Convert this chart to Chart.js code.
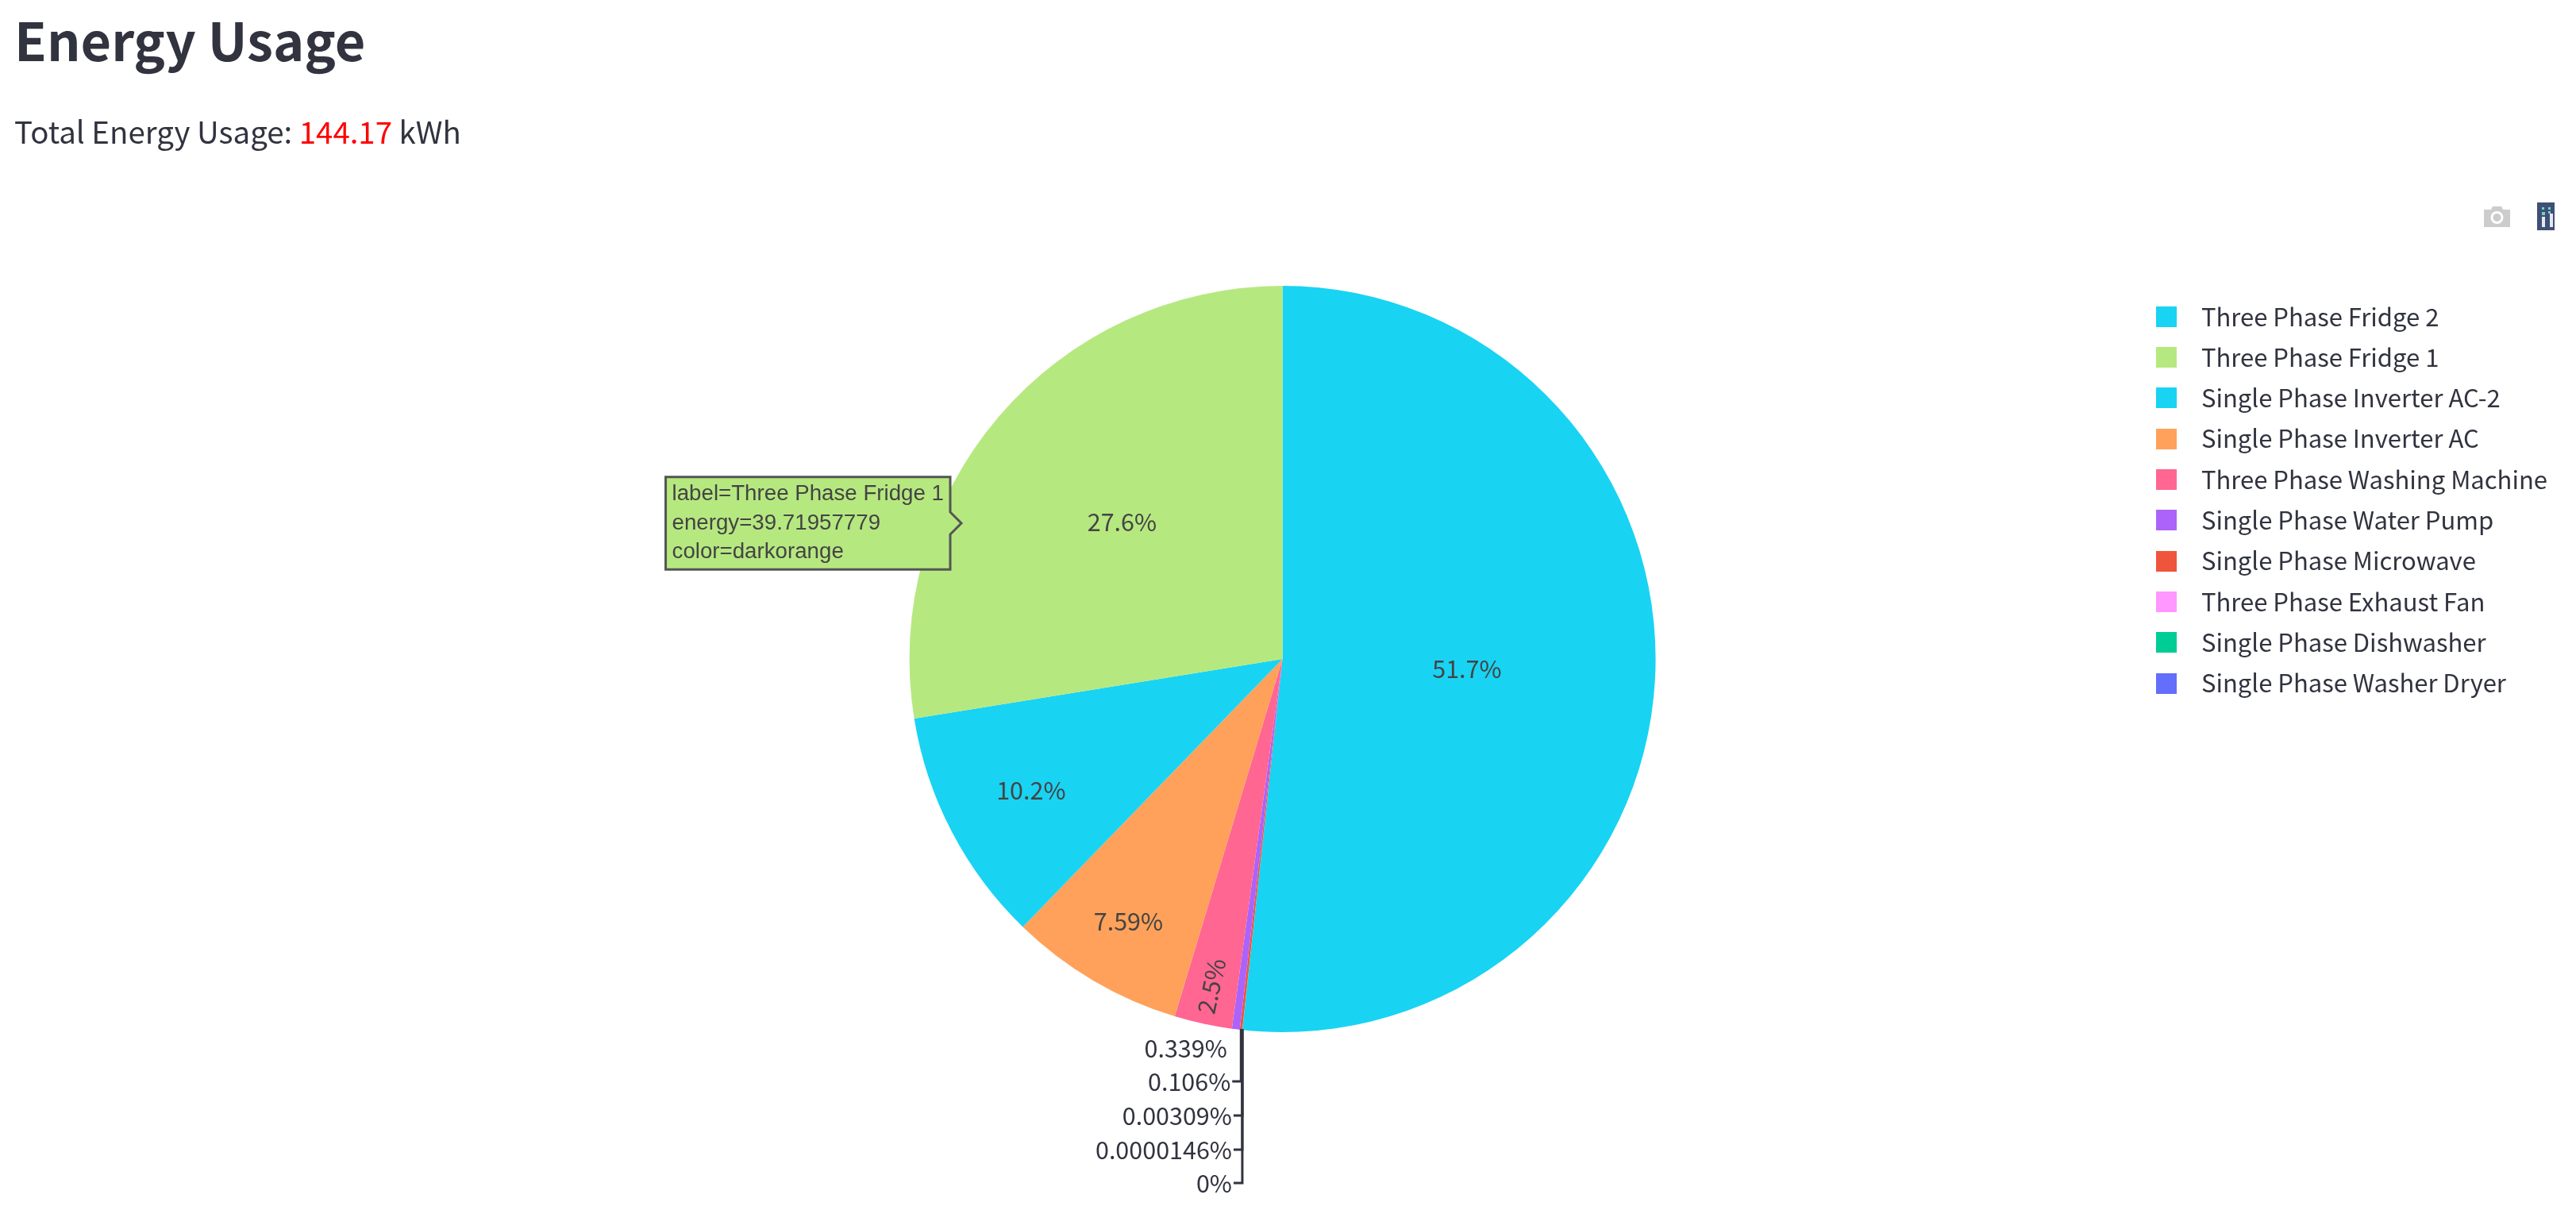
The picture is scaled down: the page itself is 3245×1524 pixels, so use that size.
<!DOCTYPE html>
<html>
<head>
<meta charset="utf-8">
<script src="https://cdn.jsdelivr.net/npm/chart.js@4/dist/chart.umd.js"></script>
<style>
html,body{margin:0;padding:0;background:#fff;width:3245px;height:1524px;overflow:hidden}
canvas{position:absolute;left:0;top:0}
h1,p{position:absolute;margin:0;color:#31333F;font-family:"Noto Sans CJK SC","Noto Sans",sans-serif;white-space:nowrap}
h1{left:18px;top:6px;font-size:66.5px;font-weight:700;line-height:84px}
p{left:18px;top:138px;font-size:38.4px;font-weight:400;line-height:52px}
p span{color:#ff0000}
svg{position:absolute}
</style>
</head>
<body>
<canvas id="c" width="3245" height="1524"></canvas>
<h1>Energy Usage</h1>
<p>Total Energy Usage: <span>144.17</span> kWh</p>
<svg style="left:3128px;top:259px" width="35" height="28" viewBox="0 0 35 28"><path fill="#cccccc" d="M1 5h9l2-4h11l2 4h9v22H1z"/><circle cx="17.5" cy="15" r="8" fill="#fff"/><circle cx="17.5" cy="15" r="5" fill="#cccccc"/></svg>
<svg style="left:3196px;top:255px" width="22" height="35" viewBox="0 0 22 35"><rect width="22" height="35" fill="#3f4f75"/><rect x="6" y="18" width="4" height="13" fill="#e6e8ef"/><rect x="16" y="14" width="4" height="17" fill="#e6e8ef"/><rect x="6" y="12" width="4" height="4" fill="#6fd3c4"/><rect x="6" y="6" width="3" height="3" fill="#6fd3c4"/><rect x="14" y="6" width="3" height="3" fill="#6fd3c4"/><rect x="14" y="11" width="3" height="3" fill="#6fd3c4"/></svg>
<script>
const categories = ["Three Phase Fridge 2","Single Phase Washer Dryer","Single Phase Dishwasher","Three Phase Exhaust Fan","Single Phase Microwave","Single Phase Water Pump","Three Phase Washing Machine","Single Phase Inverter AC","Single Phase Inverter AC-2","Three Phase Fridge 1"];
const energy = [74.56,0,0.000021,0.004455,0.153,0.489,3.60,10.94,14.70,39.71957779];
const colors = ["#19D3F3","#636EFA","#00CC96","#FF97FF","#EF553B","#AB63FA","#FF6692","#FFA15A","#19D3F3","#B6E880"];
const percentLabels = ["51.7%","0%","0.0000146%","0.00309%","0.106%","0.339%","2.5%","7.59%","10.2%","27.6%"];
const hoverIndex = 9;
const hoverColorName = "darkorange";

const TEXT = "#31333F";
const INSIDE_TEXT = "#444";
const FONT = '"Noto Sans CJK SC","Noto Sans",sans-serif';

const swatch = c => { const s=document.createElement('canvas'); s.width=26; s.height=26; const x=s.getContext('2d'); x.fillStyle=c; x.fillRect(0,0,26,26); return s; };

const insideRadius = {0:.495,6:.897,7:.815,8:.76,9:.565};
const outsideOffset = {5:20,4:62,3:105,2:148,1:190};

const pieLabels = {
  id:'pieLabels',
  afterDatasetsDraw(chart){
    const ctx=chart.ctx, arcs=chart.getDatasetMeta(0).data;
    ctx.save();
    ctx.textBaseline='middle';
    ctx.font='30.5px '+FONT;
    arcs.forEach((a,i)=>{
      const mid=(a.startAngle+a.endAngle)/2;
      if(insideRadius[i]!==undefined){
        const r=a.outerRadius*insideRadius[i];
        const x=a.x+r*Math.cos(mid), y=a.y+r*Math.sin(mid);
        ctx.save(); ctx.translate(x,y);
        if(i===6) ctx.rotate(mid+Math.PI);
        ctx.fillStyle=INSIDE_TEXT;
        ctx.textAlign='center'; ctx.fillText(percentLabels[i],0,0); ctx.restore();
      } else {
        const ex=a.x+a.outerRadius*Math.cos(mid), ey=a.y+a.outerRadius*Math.sin(mid);
        const ly=a.y+a.outerRadius+outsideOffset[i];
        ctx.textAlign='right'; ctx.fillStyle=TEXT;
        if(i===5){ ctx.fillText(percentLabels[i],ex-11,ly); return; }
        ctx.strokeStyle=TEXT; ctx.lineWidth=3;
        ctx.beginPath(); ctx.moveTo(ex,ey-1); ctx.lineTo(ex,ly); ctx.lineTo(ex-11,ly); ctx.stroke();
        ctx.fillText(percentLabels[i],ex-13,ly);
      }
    });
    ctx.restore();
  }
};

Chart.Tooltip.positioners.hoverBox = () => ({x:1211,y:659});

const chart = new Chart(document.getElementById('c'),{
  type:'pie',
  data:{labels:categories,datasets:[{data:energy,backgroundColor:colors,hoverBackgroundColor:colors,borderWidth:0,hoverBorderWidth:0,hoverOffset:0}]},
  plugins:[pieLabels],
  options:{
    responsive:false,devicePixelRatio:1,animation:false,events:[],
    layout:{padding:{left:551,top:360,bottom:224,right:26}},
    plugins:{
      legend:{
        display:true,position:'right',align:'start',
        title:{display:true,text:'',font:{size:1,lineHeight:1},padding:{top:2,bottom:0}},
        labels:{
          font:{family:FONT,size:31},color:TEXT,padding:20.3,usePointStyle:true,pointStyleWidth:57,boxHeight:26,
          generateLabels(ch){
            return categories.map((t,i)=>({text:t,index:i,fillStyle:colors[i],strokeStyle:colors[i],lineWidth:0,fontColor:TEXT,hidden:false,pointStyle:swatch(colors[i])}));
          },
          sort:(a,b)=>energy[b.index]-energy[a.index]
        }
      },
      tooltip:{
        enabled:true,position:'hoverBox',xAlign:'right',yAlign:'center',
        backgroundColor:colors[hoverIndex],borderColor:'#555',borderWidth:3,cornerRadius:0,
        caretSize:14,caretPadding:0,displayColors:false,
        bodyColor:'#444',bodyFont:{family:'"Liberation Sans",Arial,sans-serif',size:27.7,lineHeight:1.318},
        bodySpacing:0,padding:{left:8,right:8,top:3.5,bottom:3.5},
        callbacks:{title:()=>[],label:c=>["label="+c.label,"energy="+c.raw,"color="+hoverColorName]}
      }
    }
  }
});
chart.tooltip.setActiveElements([{datasetIndex:0,index:hoverIndex}],{x:1211,y:659});
chart.update('none');
</script>
</body>
</html>
